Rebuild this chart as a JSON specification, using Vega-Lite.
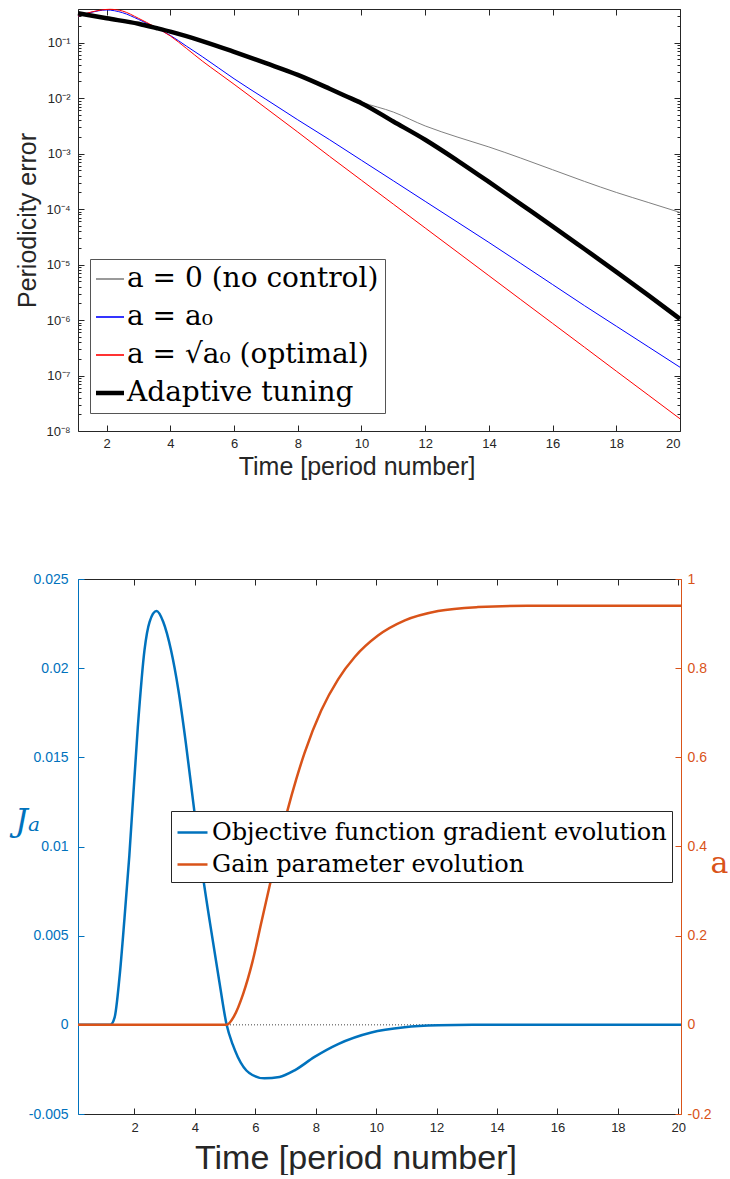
{
  "$schema": "https://vega.github.io/schema/vega-lite/v6.json",
  "padding": {"left": 14, "top": 4, "right": 0, "bottom": 0},
  "spacing": 93,
  "resolve": {
    "scale": {"color": "independent"},
    "legend": {"color": "independent"}
  },
  "datasets": {
    "perr": [
      {"t": 1.1, "s": "a = 0 (no control)", "v": 0.339},
      {"t": 2, "s": "a = 0 (no control)", "v": 0.275},
      {"t": 3, "s": "a = 0 (no control)", "v": 0.219},
      {"t": 3.58, "s": "a = 0 (no control)", "v": 0.182},
      {"t": 4, "s": "a = 0 (no control)", "v": 0.158},
      {"t": 5, "s": "a = 0 (no control)", "v": 0.107},
      {"t": 6, "s": "a = 0 (no control)", "v": 0.0684},
      {"t": 7, "s": "a = 0 (no control)", "v": 0.0427},
      {"t": 8, "s": "a = 0 (no control)", "v": 0.0263},
      {"t": 9, "s": "a = 0 (no control)", "v": 0.0148},
      {"t": 9.5, "s": "a = 0 (no control)", "v": 0.0111},
      {"t": 10, "s": "a = 0 (no control)", "v": 0.00851},
      {"t": 11, "s": "a = 0 (no control)", "v": 0.00562},
      {"t": 12, "s": "a = 0 (no control)", "v": 0.00316},
      {"t": 13, "s": "a = 0 (no control)", "v": 0.002},
      {"t": 14, "s": "a = 0 (no control)", "v": 0.00132},
      {"t": 15, "s": "a = 0 (no control)", "v": 0.000832},
      {"t": 16, "s": "a = 0 (no control)", "v": 0.000513},
      {"t": 17, "s": "a = 0 (no control)", "v": 0.000316},
      {"t": 18, "s": "a = 0 (no control)", "v": 0.0002},
      {"t": 19, "s": "a = 0 (no control)", "v": 0.000132},
      {"t": 20, "s": "a = 0 (no control)", "v": 0.0000871},
      {"t": 1.1, "s": "a = a₀", "v": 0.302},
      {"t": 1.5, "s": "a = a₀", "v": 0.351},
      {"t": 2, "s": "a = a₀", "v": 0.389},
      {"t": 2.5, "s": "a = a₀", "v": 0.347},
      {"t": 3, "s": "a = a₀", "v": 0.263},
      {"t": 3.5, "s": "a = a₀", "v": 0.191},
      {"t": 4, "s": "a = a₀", "v": 0.135},
      {"t": 4.5, "s": "a = a₀", "v": 0.0871},
      {"t": 5, "s": "a = a₀", "v": 0.0562},
      {"t": 5.5, "s": "a = a₀", "v": 0.0355},
      {"t": 6, "s": "a = a₀", "v": 0.0224},
      {"t": 7, "s": "a = a₀", "v": 0.00955},
      {"t": 8, "s": "a = a₀", "v": 0.00407},
      {"t": 9, "s": "a = a₀", "v": 0.00178},
      {"t": 10, "s": "a = a₀", "v": 0.000759},
      {"t": 11, "s": "a = a₀", "v": 0.000324},
      {"t": 12, "s": "a = a₀", "v": 0.000138},
      {"t": 13, "s": "a = a₀", "v": 0.0000589},
      {"t": 14, "s": "a = a₀", "v": 0.0000251},
      {"t": 15, "s": "a = a₀", "v": 0.0000105},
      {"t": 16, "s": "a = a₀", "v": 0.00000437},
      {"t": 17, "s": "a = a₀", "v": 0.00000182},
      {"t": 18, "s": "a = a₀", "v": 7.76e-7},
      {"t": 19, "s": "a = a₀", "v": 3.31e-7},
      {"t": 20, "s": "a = a₀", "v": 1.41e-7},
      {"t": 1.1, "s": "a = √a₀ (optimal)", "v": 0.302},
      {"t": 1.5, "s": "a = √a₀ (optimal)", "v": 0.355},
      {"t": 2.1, "s": "a = √a₀ (optimal)", "v": 0.4},
      {"t": 2.5, "s": "a = √a₀ (optimal)", "v": 0.372},
      {"t": 3, "s": "a = √a₀ (optimal)", "v": 0.275},
      {"t": 3.5, "s": "a = √a₀ (optimal)", "v": 0.195},
      {"t": 4, "s": "a = √a₀ (optimal)", "v": 0.132},
      {"t": 4.5, "s": "a = √a₀ (optimal)", "v": 0.0794},
      {"t": 5, "s": "a = √a₀ (optimal)", "v": 0.0468},
      {"t": 5.5, "s": "a = √a₀ (optimal)", "v": 0.0288},
      {"t": 6, "s": "a = √a₀ (optimal)", "v": 0.0178},
      {"t": 7, "s": "a = √a₀ (optimal)", "v": 0.00661},
      {"t": 8, "s": "a = √a₀ (optimal)", "v": 0.00245},
      {"t": 9, "s": "a = √a₀ (optimal)", "v": 0.000891},
      {"t": 10, "s": "a = √a₀ (optimal)", "v": 0.000331},
      {"t": 11, "s": "a = √a₀ (optimal)", "v": 0.000123},
      {"t": 12, "s": "a = √a₀ (optimal)", "v": 0.0000457},
      {"t": 13, "s": "a = √a₀ (optimal)", "v": 0.000017},
      {"t": 14, "s": "a = √a₀ (optimal)", "v": 0.00000631},
      {"t": 15, "s": "a = √a₀ (optimal)", "v": 0.00000234},
      {"t": 16, "s": "a = √a₀ (optimal)", "v": 8.71e-7},
      {"t": 17, "s": "a = √a₀ (optimal)", "v": 3.24e-7},
      {"t": 18, "s": "a = √a₀ (optimal)", "v": 1.2e-7},
      {"t": 19, "s": "a = √a₀ (optimal)", "v": 4.47e-8},
      {"t": 20, "s": "a = √a₀ (optimal)", "v": 1.66e-8},
      {"t": 1.1, "s": "Adaptive tuning", "v": 0.339},
      {"t": 2, "s": "Adaptive tuning", "v": 0.275},
      {"t": 3, "s": "Adaptive tuning", "v": 0.219},
      {"t": 3.58, "s": "Adaptive tuning", "v": 0.182},
      {"t": 4, "s": "Adaptive tuning", "v": 0.158},
      {"t": 5, "s": "Adaptive tuning", "v": 0.107},
      {"t": 6, "s": "Adaptive tuning", "v": 0.0684},
      {"t": 7, "s": "Adaptive tuning", "v": 0.0427},
      {"t": 8, "s": "Adaptive tuning", "v": 0.0263},
      {"t": 9, "s": "Adaptive tuning", "v": 0.0148},
      {"t": 9.5, "s": "Adaptive tuning", "v": 0.01096},
      {"t": 10, "s": "Adaptive tuning", "v": 0.00813},
      {"t": 11, "s": "Adaptive tuning", "v": 0.0038},
      {"t": 12, "s": "Adaptive tuning", "v": 0.00178},
      {"t": 13, "s": "Adaptive tuning", "v": 0.000759},
      {"t": 14, "s": "Adaptive tuning", "v": 0.000309},
      {"t": 15, "s": "Adaptive tuning", "v": 0.000123},
      {"t": 16, "s": "Adaptive tuning", "v": 0.000049},
      {"t": 17, "s": "Adaptive tuning", "v": 0.0000191},
      {"t": 18, "s": "Adaptive tuning", "v": 0.00000741},
      {"t": 19, "s": "Adaptive tuning", "v": 0.00000282},
      {"t": 20, "s": "Adaptive tuning", "v": 0.00000105}
    ],
    "J": [
      {"t": 0.13, "J": 0},
      {"t": 0.6, "J": 0},
      {"t": 1.2, "J": 0},
      {"t": 1.34, "J": 0.0004},
      {"t": 1.5, "J": 0.0026},
      {"t": 1.67, "J": 0.006},
      {"t": 1.83, "J": 0.0095},
      {"t": 2.11, "J": 0.0167},
      {"t": 2.33, "J": 0.021},
      {"t": 2.5, "J": 0.0226},
      {"t": 2.73, "J": 0.0232},
      {"t": 2.95, "J": 0.0226},
      {"t": 3.21, "J": 0.021},
      {"t": 3.45, "J": 0.0188},
      {"t": 3.7, "J": 0.0158},
      {"t": 3.95, "J": 0.0124},
      {"t": 4.2, "J": 0.0091},
      {"t": 4.5, "J": 0.0057},
      {"t": 4.81, "J": 0.0024},
      {"t": 5.05, "J": 0},
      {"t": 5.25, "J": -0.0011},
      {"t": 5.42, "J": -0.0018},
      {"t": 5.8, "J": -0.0027},
      {"t": 6.3, "J": -0.003},
      {"t": 6.8, "J": -0.00292},
      {"t": 7.3, "J": -0.00255},
      {"t": 7.96, "J": -0.0018},
      {"t": 8.74, "J": -0.00108},
      {"t": 9.84, "J": -0.00043},
      {"t": 10.94, "J": -0.00014},
      {"t": 12.05, "J": -0.00003},
      {"t": 13.2, "J": 0},
      {"t": 16, "J": 0},
      {"t": 20.09, "J": 0}
    ],
    "gain": [
      {"t": 0.13, "a": 0},
      {"t": 2.5, "a": 0},
      {"t": 5.05, "a": 0},
      {"t": 5.3, "a": 0.02},
      {"t": 5.6, "a": 0.07},
      {"t": 5.9, "a": 0.14},
      {"t": 6.2, "a": 0.23},
      {"t": 6.5, "a": 0.32},
      {"t": 6.8, "a": 0.41},
      {"t": 7.06, "a": 0.48},
      {"t": 7.35, "a": 0.55},
      {"t": 7.63, "a": 0.61},
      {"t": 8.18, "a": 0.705},
      {"t": 8.74, "a": 0.775},
      {"t": 9.29, "a": 0.825},
      {"t": 10.06, "a": 0.873},
      {"t": 10.95, "a": 0.907},
      {"t": 12.05, "a": 0.928},
      {"t": 13.37, "a": 0.937},
      {"t": 15, "a": 0.94},
      {"t": 20.09, "a": 0.94}
    ],
    "zero": [{"z": 0}]
  },
  "vconcat": [
    {
      "width": 602,
      "height": 422,
      "data": {"name": "perr"},
      "layer": [
        {
          "mark": {"type": "line", "interpolate": "monotone"},
          "encoding": {
            "x": {
              "field": "t", "type": "quantitative",
              "scale": {"domain": [1.1, 20], "nice": false, "zero": false},
              "axis": {"orient": "bottom", "values": [2, 4, 6, 8, 10, 12, 14, 16, 18, 20], "tickSize": -6, "labelPadding": 12,
                "title": "Time [period number]", "titleFontSize": 25, "titleX": 278.5, "titleY": 35, "titleBaseline": "middle", "titleAlign": "center"}
            },
            "y": {
              "field": "v", "type": "quantitative",
              "scale": {"type": "log", "domain": [1e-8, 0.405], "nice": false},
              "axis": {"orient": "left", "values": [1e-8, 1e-7, 1e-6, 1e-5, 1e-4, 1e-3, 1e-2, 1e-1], "tickSize": -6, "labelPadding": 14,
                "labelExpr": "'10⁻' + ['⁰','¹','²','³','⁴','⁵','⁶','⁷','⁸','⁹'][round(-log(datum.value)/LN10)]",
                "title": "Periodicity error", "titleFontSize": 25, "titleX": -51, "titleY": 211, "titleBaseline": "middle", "titleAlign": "center"}
            },
            "color": {
              "field": "s", "type": "nominal",
              "scale": {"domain": ["a = 0 (no control)", "a = a₀", "a = √a₀ (optimal)", "Adaptive tuning"], "range": ["#808080", "#0000ff", "#ff0000", "#000000"]},
              "legend": {"orient": "none", "legendX": 12, "legendY": 250, "title": null, "symbolType": "stroke", "symbolSize": 784,
                "labelFont": "DejaVu Serif", "labelFontSize": 28, "labelColor": "#000000", "rowPadding": 10, "padding": 6,
                "strokeColor": "#555555", "fillColor": "#ffffff", "labelOffset": 3, "labelLimit": 0,
                "encode": {"symbols": {"update": {"strokeWidth": {"signal": "datum.value === 'Adaptive tuning' ? 4.5 : 1.6"}}}}}
            },
            "strokeWidth": {"condition": {"test": "datum.s === 'Adaptive tuning'", "value": 4.5}, "value": 1}
          }
        },
        {
          "mark": {"type": "point", "opacity": 0},
          "encoding": {
            "x": {"field": "t", "type": "quantitative", "scale": {"domain": [1.1, 20], "nice": false, "zero": false},
              "axis": {"orient": "top", "values": [2, 4, 6, 8, 10, 12, 14, 16, 18, 20], "tickSize": -6, "labels": false, "title": null}},
            "y": {"field": "v", "type": "quantitative", "scale": {"type": "log", "domain": [1e-8, 0.405], "nice": false},
              "axis": {"orient": "right", "values": [1e-8, 1e-7, 1e-6, 1e-5, 1e-4, 1e-3, 1e-2, 1e-1], "tickSize": -6, "labels": false, "title": null}}
          }
        },
        {
          "mark": {"type": "point", "opacity": 0},
          "encoding": {
            "x": {"field": "t", "type": "quantitative", "scale": {"domain": [1.1, 20], "nice": false, "zero": false}, "axis": null},
            "y": {"field": "v", "type": "quantitative", "scale": {"type": "log", "domain": [1e-8, 0.405], "nice": false},
              "axis": {"orient": "left", "domain": false, "labels": false, "title": null, "tickSize": -3,
                "values": [2e-8, 3e-8, 4e-8, 5e-8, 6e-8, 7e-8, 8e-8, 9e-8, 2e-7, 3e-7, 4e-7, 5e-7, 6e-7, 7e-7, 8e-7, 9e-7, 2e-6, 3e-6, 4e-6, 5e-6, 6e-6, 7e-6, 8e-6, 9e-6, 2e-5, 3e-5, 4e-5, 5e-5, 6e-5, 7e-5, 8e-5, 9e-5, 2e-4, 3e-4, 4e-4, 5e-4, 6e-4, 7e-4, 8e-4, 9e-4, 0.002, 0.003, 0.004, 0.005, 0.006, 0.007, 0.008, 0.009, 0.02, 0.03, 0.04, 0.05, 0.06, 0.07, 0.08, 0.09, 0.2, 0.3, 0.4]}}
          }
        },
        {
          "mark": {"type": "point", "opacity": 0},
          "encoding": {
            "x": {"field": "t", "type": "quantitative", "scale": {"domain": [1.1, 20], "nice": false, "zero": false}, "axis": null},
            "y": {"field": "v", "type": "quantitative", "scale": {"type": "log", "domain": [1e-8, 0.405], "nice": false},
              "axis": {"orient": "right", "domain": false, "labels": false, "title": null, "tickSize": -3,
                "values": [2e-8, 3e-8, 4e-8, 5e-8, 6e-8, 7e-8, 8e-8, 9e-8, 2e-7, 3e-7, 4e-7, 5e-7, 6e-7, 7e-7, 8e-7, 9e-7, 2e-6, 3e-6, 4e-6, 5e-6, 6e-6, 7e-6, 8e-6, 9e-6, 2e-5, 3e-5, 4e-5, 5e-5, 6e-5, 7e-5, 8e-5, 9e-5, 2e-4, 3e-4, 4e-4, 5e-4, 6e-4, 7e-4, 8e-4, 9e-4, 0.002, 0.003, 0.004, 0.005, 0.006, 0.007, 0.008, 0.009, 0.02, 0.03, 0.04, 0.05, 0.06, 0.07, 0.08, 0.09, 0.2, 0.3, 0.4]}}
          }
        }
      ],
      "resolve": {"axis": {"x": "independent", "y": "independent"}}
    },
    {
      "width": 603,
      "height": 535,
      "layer": [
        {
          "layer": [
            {
              "data": {"name": "zero"},
              "mark": {"type": "rule", "color": "#444444", "strokeDash": [1, 2], "strokeWidth": 1},
              "encoding": {
                "y": {"field": "z", "type": "quantitative", "scale": {"domain": [-0.005, 0.025], "nice": false}}
              }
            },
            {
              "data": {"name": "J"},
              "mark": {"type": "line", "interpolate": "monotone", "strokeWidth": 2.5},
              "encoding": {
                "x": {"field": "t", "type": "quantitative", "scale": {"domain": [0.13, 20.09], "nice": false, "zero": false},
                  "axis": {"orient": "bottom", "values": [2, 4, 6, 8, 10, 12, 14, 16, 18, 20], "tickSize": -6, "labelPadding": 13,
                    "title": "Time [period number]", "titleFontSize": 34, "titleX": 277.5, "titleY": 44, "titleBaseline": "middle", "titleAlign": "center"}},
                "y": {"field": "J", "type": "quantitative", "scale": {"domain": [-0.005, 0.025], "nice": false},
                  "axis": {"orient": "left", "values": [-0.005, 0, 0.005, 0.01, 0.015, 0.02, 0.025], "labelExpr": "'' + datum.value",
                    "tickSize": -6, "labelPadding": 16, "labelFontSize": 14,
                    "domainColor": "#0072BD", "tickColor": "#0072BD", "labelColor": "#0072BD",
                    "title": "Jₐ", "titleFont": "DejaVu Serif", "titleFontStyle": "italic", "titleFontSize": 32, "titleColor": "#0072BD",
                    "titleAngle": 0, "titleX": -51, "titleY": 241, "titleAlign": "center", "titleBaseline": "middle"}},
                "color": {"datum": "Objective function gradient evolution", "type": "nominal",
                  "scale": {"domain": ["Objective function gradient evolution", "Gain parameter evolution"], "range": ["#0072BD", "#D95319"]},
                  "legend": {"orient": "none", "legendX": 93, "legendY": 232, "title": null, "symbolType": "stroke", "symbolSize": 900, "symbolStrokeWidth": 2.5,
                    "labelFont": "DejaVu Serif", "labelFontSize": 24, "labelColor": "#000000", "rowPadding": 3, "padding": 5,
                    "strokeColor": "#262626", "fillColor": "#ffffff", "labelOffset": 3, "labelLimit": 0}}
              }
            }
          ]
        },
        {
          "data": {"name": "gain"},
          "mark": {"type": "line", "interpolate": "monotone", "strokeWidth": 2.5},
          "encoding": {
            "x": {"field": "t", "type": "quantitative", "scale": {"domain": [0.13, 20.09], "nice": false, "zero": false},
              "axis": {"orient": "top", "values": [2, 4, 6, 8, 10, 12, 14, 16, 18, 20], "tickSize": -6, "labels": false, "title": null}},
            "y": {"field": "a", "type": "quantitative", "scale": {"domain": [-0.2, 1], "nice": false},
              "axis": {"orient": "right", "values": [-0.2, 0, 0.2, 0.4, 0.6, 0.8, 1], "labelExpr": "'' + datum.value",
                "tickSize": -6, "labelPadding": 12, "labelFontSize": 14,
                "domainColor": "#D95319", "tickColor": "#D95319", "labelColor": "#D95319",
                "title": "a", "titleFont": "DejaVu Serif", "titleFontSize": 30, "titleColor": "#D95319", "titleFontWeight": "normal",
                "titleAngle": 0, "titleX": 38, "titleY": 284, "titleAlign": "center", "titleBaseline": "middle"}},
            "color": {"datum": "Gain parameter evolution", "type": "nominal",
              "scale": {"domain": ["Objective function gradient evolution", "Gain parameter evolution"], "range": ["#0072BD", "#D95319"]},
              "legend": {"orient": "none", "legendX": 93, "legendY": 232, "title": null, "symbolType": "stroke", "symbolSize": 900, "symbolStrokeWidth": 2.5,
                "labelFont": "DejaVu Serif", "labelFontSize": 24, "labelColor": "#000000", "rowPadding": 3, "padding": 5,
                "strokeColor": "#262626", "fillColor": "#ffffff", "labelOffset": 3, "labelLimit": 0}}
          }
        }
      ],
      "resolve": {"scale": {"y": "independent"}, "axis": {"x": "independent", "y": "independent"}}
    }
  ],
  "config": {
    "font": "Liberation Sans",
    "view": {"stroke": null},
    "axis": {
      "grid": false, "domainColor": "#262626", "tickColor": "#262626", "labelColor": "#262626",
      "labelFont": "Liberation Sans", "labelFontSize": 13, "titleFont": "Liberation Sans", "titleFontWeight": "normal",
      "titleColor": "#262626", "domainWidth": 1, "tickWidth": 1
    }
  }
}
